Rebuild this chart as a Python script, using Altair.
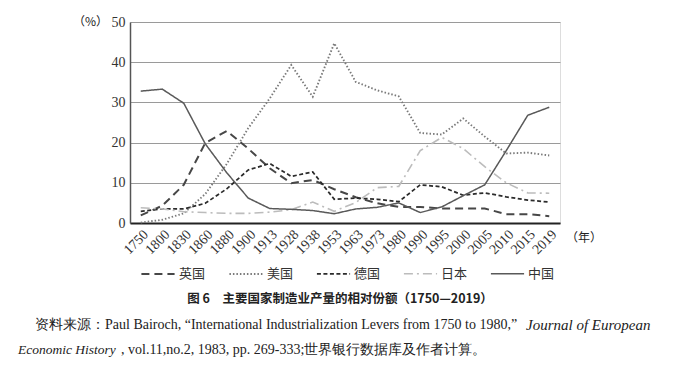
import altair as alt
import pandas as pd

years = ["1750", "1800", "1830", "1860", "1880", "1900", "1913", "1928", "1938", "1953",
         "1963", "1973", "1980", "1990", "1995", "2000", "2005", "2010", "2015", "2019"]
series_names = ["英国", "美国", "德国", "日本", "中国"]
uk = [1.9, 4.3, 9.5, 19.9, 22.9, 18.5, 13.6, 9.9, 10.7, 8.4, 6.4, 4.9, 4.0, 4.0, 3.6, 3.6, 3.6, 2.2, 2.2, 1.7]
us = [0.1, 0.8, 2.4, 7.2, 14.7, 23.6, 31.0, 39.3, 31.4, 44.7, 35.1, 33.0, 31.5, 22.4, 22.0, 26.0, 21.5, 17.3, 17.5, 16.8]
germany = [2.9, 3.5, 3.5, 4.9, 8.5, 13.2, 14.8, 11.6, 12.7, 5.9, 6.2, 5.9, 5.3, 9.5, 9.0, 6.9, 7.5, 6.5, 5.7, 5.2]
japan = [3.8, 3.5, 2.8, 2.6, 2.4, 2.4, 2.7, 3.3, 5.2, 2.9, 5.1, 8.8, 9.1, 18.0, 21.3, 18.5, 14.0, 10.0, 7.5, 7.4]
china = [32.8, 33.3, 29.8, 19.7, 12.5, 6.2, 3.6, 3.4, 3.1, 2.3, 3.5, 3.9, 5.0, 2.6, 4.0, 6.8, 9.5, 18.0, 26.8, 28.8]

y_ticks = [0, 10, 20, 30, 40, 50]
title_text = "图 6　主要国家制造业产量的相对份额（1750—2019）"
src1_a = "资料来源：Paul Bairoch, “International Industrialization Levers from 1750 to 1980,”"
src1_b = "Journal of European"
src2_a = "Economic History"
src2_b = ", vol.11,no.2, 1983, pp. 269-333;世界银行数据库及作者计算。"

rows = []
for name, vals in zip(series_names, [uk, us, germany, japan, china]):
    for yr, v in zip(years, vals):
        rows.append({"year": yr, "country": name, "share": v})
df = pd.DataFrame(rows)

colors = ["#474747", "#7a7a7a", "#2b2b2b", "#bcbcbc", "#595959"]
dashes = [[8, 5], [1.5, 2], [4, 2.5], [9, 4, 2, 4], [1, 0]]
widths = [2, 1.5, 2.5, 2, 2.5]

SERIF = "Liberation Serif"
CJK = "Noto Sans CJK SC"

legend_cfg = dict(title=None, orient="none", direction="horizontal",
                  legendX=10, legendY=234, symbolType="stroke",
                  symbolSize=1100, symbolStrokeWidth=2,
                  labelFont=CJK, labelFontSize=13, labelColor="#333",
                  columnPadding=19, labelOffset=3)

lines = alt.Chart(df).mark_line().encode(
    x=alt.X("year:O", sort=years, title=None,
            axis=alt.Axis(labelAngle=-45, labelFont=SERIF, labelFontSize=14,
                          labelColor="#333", ticks=False, domainColor="#222",
                          domainWidth=2, grid=False, labelPadding=4)),
    y=alt.Y("share:Q", title=None,
            scale=alt.Scale(domain=[0, 50], nice=False),
            axis=alt.Axis(values=y_ticks, labelFont=SERIF, labelFontSize=14,
                          labelColor="#333", ticks=False, domainColor="#555",
                          domainWidth=1.5, gridColor="#9a9a9a", gridWidth=1,
                          labelPadding=5)),
    color=alt.Color("country:N", sort=series_names,
                    scale=alt.Scale(domain=series_names, range=colors),
                    legend=alt.Legend(**legend_cfg)),
    strokeDash=alt.StrokeDash("country:N", sort=series_names,
                              scale=alt.Scale(domain=series_names, range=dashes),
                              legend=alt.Legend(**legend_cfg)),
    strokeWidth=alt.StrokeWidth("country:O", sort=series_names,
                                scale=alt.Scale(domain=series_names, range=widths),
                                legend=None),
)

def txt(text, x, y, font=SERIF, size=13, weight="normal", style="normal", align="left"):
    return alt.Chart(pd.DataFrame({"t": [text]})).mark_text(
        font=font, fontSize=size, fontWeight=weight, fontStyle=style,
        align=align, baseline="middle", color="#222"
    ).encode(x=alt.value(x), y=alt.value(y), text="t:N")

pct = txt("（%）", -22, 0, font=CJK, size=12, align="right")
nian = txt("（年）", 436, 216, font=CJK, size=12, align="left")
title = txt(title_text, 210, 277, font=CJK, size=12.5, weight="bold", align="center")
s1a = txt(src1_a, -95, 303, font=SERIF, size=14)
s1b = txt(src1_b, 396, 303, font=SERIF, size=15, style="italic")
s2a = txt(src2_a, -112, 328, font=SERIF, size=13.5, style="italic")
s2b = txt(src2_b, -9, 328, font=SERIF, size=14)

chart = alt.layer(lines, pct, nian, title, s1a, s1b, s2a, s2b).properties(
    width=430, height=201,
    autosize=alt.AutoSizeParams(type="none"),
    padding={"left": 122, "top": 14, "right": 120, "bottom": 147},
).configure_view(stroke=None).configure(background="white")

chart.save("out.html", embed_options={"renderer": "svg", "actions": False})
